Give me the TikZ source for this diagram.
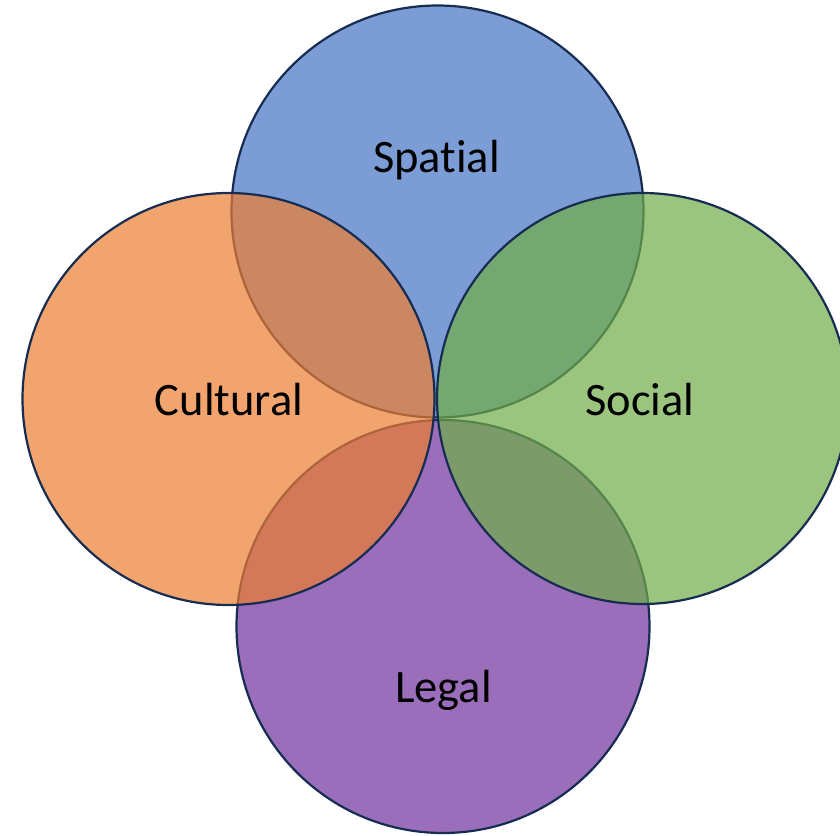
\documentclass[tikz,border=0pt]{standalone}
\usepackage{fontspec}
\setmainfont{Carlito}[Ligatures={NoCommon}]
\definecolor{cblue}{HTML}{4472C4}
\definecolor{corange}{HTML}{ED7D31}
\definecolor{cgreen}{HTML}{70AD47}
\definecolor{cpurple}{HTML}{7030A0}
\definecolor{cedge}{HTML}{172C51}
\begin{document}
\begin{tikzpicture}[x=1pt,y=-1pt,
  venn/.style={circle,draw=cedge,line width=2.2pt,fill opacity=0.7,inner sep=0pt},
  lbl/.style={anchor=base,inner sep=0pt,font=\fontsize{46.5}{55}\selectfont,text=black}]
\useasboundingbox (0,0) rectangle (840,835);
\begin{scope}
\clip (0,0) rectangle (840,835);
\node[venn,fill=cblue,minimum size=412pt] (spatial) at (437.5,211.5) {};
\node[venn,fill=cpurple,minimum size=413pt] (legal) at (443,626.5) {};
\node[venn,fill=corange,minimum size=412pt] (cultural) at (228.5,399) {};
\node[venn,fill=cgreen,minimum size=411pt] (social) at (642.5,398.5) {};
\end{scope}
\node[lbl] (tspatial) at (436.5,172) {Spatial};
\node[lbl] (tcultural) at (229,415) {Cultural};
\node[lbl] (tsocial) at (640,415) {Social};
\node[lbl] (tlegal) at (443.5,702) {Legal};
\end{tikzpicture}
\end{document}
